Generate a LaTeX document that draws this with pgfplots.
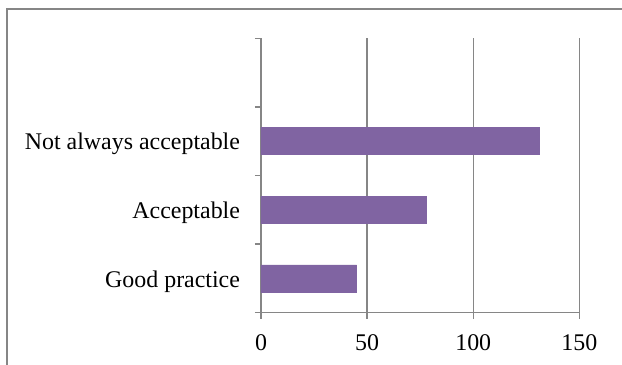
\documentclass[border=0pt]{standalone}
\usepackage{fontspec}
\setmainfont{Liberation Serif}
\usepackage{pgfplots}
\pgfplotsset{compat=1.18}
\definecolor{barpurple}{HTML}{8064A2}
\definecolor{axgray}{HTML}{868686}
\begin{document}
\begin{tikzpicture}
\begin{axis}[
  at={(0,0)}, anchor=origin,
  scale only axis,
  width=159.2bp, height=137.2bp,
  xmin=0, xmax=150, ymin=0, ymax=4,
  xbar, bar width=13.5bp,
  axis lines*=left,
  axis line style={draw=axgray, line width=0.65bp},
  xtick={0,50,100,150},
  ytick={0,1,2,3,4},
  yticklabels={},
  extra y ticks={0.5,1.5,2.5},
  extra y tick labels={Good practice,Acceptable,Not always acceptable},
  extra y tick style={major tick length=0pt, grid=none,
    yticklabel style={xshift=-7bp, yshift=-1.5bp}},
  xticklabel style={yshift=-4.5bp},
  tick align=outside,
  major tick length=3bp,
  tick style={draw=axgray, line width=0.65bp},
  xmajorgrids,
  grid style={draw=axgray, line width=0.65bp},
  tick label style={font=\fontsize{12}{14}\selectfont},
  /pgf/number format/assume math mode=true,
  clip=false,
]
\addplot[fill=barpurple, draw=barpurple] coordinates {(45,0.5) (78,1.5) (131,2.5)};
\end{axis}
% outer chart border
\useasboundingbox (-130.5bp,-26.15bp) rectangle (180.5bp,156.35bp);
\draw[axgray, line width=0.7bp] (-127bp,-26.15bp) -- (-127bp,151.85bp) -- (180.5bp,151.85bp);
\end{tikzpicture}
\end{document}
